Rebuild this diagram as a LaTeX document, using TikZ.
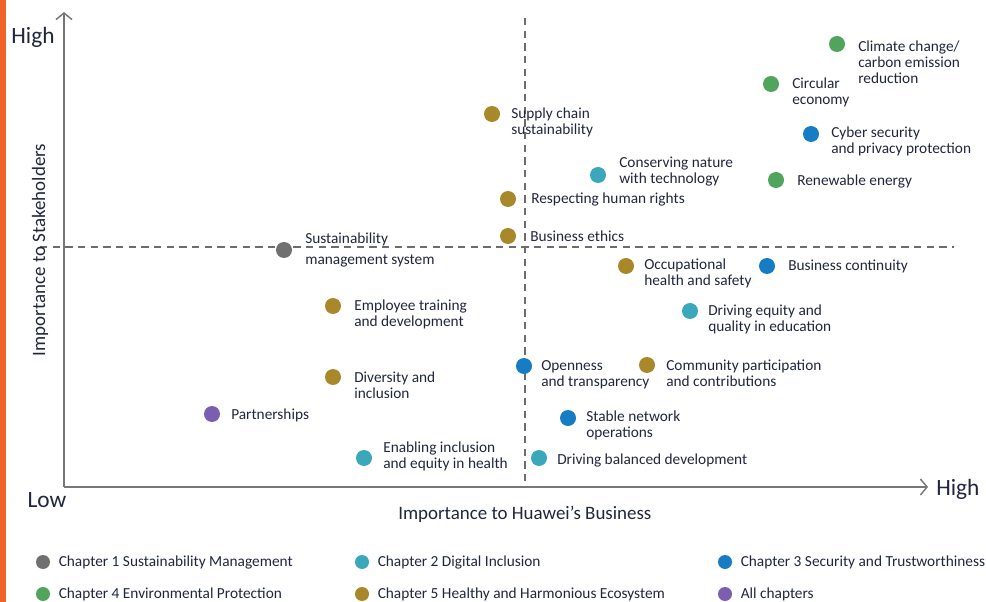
\documentclass[tikz,border=0pt]{standalone}
\usepackage{fontspec}
\setmainfont{Carlito}
\usetikzlibrary{arrows.meta}
\definecolor{chone}{RGB}{112,112,112}
\definecolor{chtwo}{RGB}{58,168,186}
\definecolor{chthree}{RGB}{22,125,196}
\definecolor{chfour}{RGB}{80,164,92}
\definecolor{chfive}{RGB}{168,136,40}
\definecolor{chall}{RGB}{124,94,176}
\definecolor{ink}{RGB}{32,38,62}
\definecolor{axisgray}{RGB}{120,120,120}
\definecolor{sidebar}{RGB}{240,100,40}

\begin{document}
\begin{tikzpicture}[x=0.75pt,y=-0.75pt,
  dot/.style={circle, fill=#1, inner sep=0pt, minimum size=12pt},
  keydot/.style={circle, fill=#1, inner sep=0pt, minimum size=10.5pt},
  lbl/.style={anchor=west, align=left, inner sep=0pt, text=ink, font=\fontsize{11.5}{12}\selectfont},
  axis/.style={draw=axisgray, line width=1.1pt, -{Straight Barb[length=5pt,width=12pt,line width=1.1pt]}},
  guide/.style={draw=axisgray!90!black, line width=1.1pt, dash pattern=on 5.5pt off 4pt},
  big/.style={text=ink, inner sep=0pt, font=\fontsize{17.5}{20}\selectfont},
  title/.style={text=ink, inner sep=0pt, font=\fontsize{14.2}{16}\selectfont}]
\useasboundingbox (0,0) rectangle (986,602);
\fill[sidebar] (0,0) rectangle (5.5,602);

% axes and quadrant lines
\coordinate (o) at (64,487);
\coordinate (ytip) at (64,12);
\coordinate (xtip) at (928,487);
\coordinate (hl) at (40,247);
\coordinate (hr) at (954,247);
\coordinate (vt) at (525,18);
\coordinate (vb) at (525,487);
\draw[guide] (hl) -- (hr);
\draw[guide] (vt) -- (vb);
\draw[axis] (o) -- (ytip);
\draw[axis] (o) -- (xtip);
\node[big] (yhigh) at (33,37) {High};
\node[big] (xlow) at (47,500) {Low};
\node[big, anchor=west] (xhigh) at (936,489) {High};
\node[title, rotate=90] (ytitle) at (40,250) {Importance to Stakeholders};
\node[title, anchor=west] (xtitle) at (398,514) {Importance to Huawei’s Business};

% topics: x/y/colour/text/label x/label y
\foreach \x/\y/\c/\t/\lx/\ly [count=\i] in {
  837/44/chfour/{Climate change/\\carbon emission\\reduction}/858/62,
  771/84/chfour/{Circular\\economy}/792/92.5,
  811/134/chthree/{Cyber security\\and privacy protection}/831/141.5,
  776/180/chfour/{Renewable energy}/797/181,
  492/114/chfive/{Supply chain\\sustainability}/511/122.5,
  598/175/chtwo/{Conserving nature\\with technology}/619/171.5,
  508/199/chfive/{Respecting human rights}/531/199,
  508/236/chfive/{Business ethics}/530/236,
  284/250/chone/{Sustainability\\[4pt]management system}/305/250,
  626/266/chfive/{Occupational\\health and safety}/644/273.5,
  767/266/chthree/{Business continuity}/788/266,
  333/306/chfive/{Employee training\\and development}/354/314.5,
  690/311/chtwo/{Driving equity and\\quality in education}/708/319.5,
  524/366/chthree/{Openness\\and transparency}/541/375,
  647/365/chfive/{Community participation\\and contributions}/666/373.5,
  333/377/chfive/{Diversity and\\inclusion}/354/385.5,
  212/414/chall/{Partnerships}/231/415,
  568/418/chthree/{Stable network\\operations}/586/425.5,
  364/458/chtwo/{Enabling inclusion\\and equity in health}/383/456.5,
  539/458/chtwo/{Driving balanced development}/557/460} {
  \node[dot=\c] (d\i) at (\x,\y) {};
  \node[lbl] (l\i) at (\lx,\ly) {\t};
}

% legend
\foreach \x/\y/\c/\t [count=\i] in {
  43/562/chone/{Chapter 1 Sustainability Management},
  362/562/chtwo/{Chapter 2 Digital Inclusion},
  725/562/chthree/{Chapter 3 Security and Trustworthiness},
  43/594/chfour/{Chapter 4 Environmental Protection},
  362/594/chfive/{Chapter 5 Healthy and Harmonious Ecosystem},
  725/594/chall/{All chapters}} {
  \node[keydot=\c] (k\i) at (\x,\y) {};
  \node[lbl] (kl\i) at (\x+15.5,\y+0.5) {\t};
}
\end{tikzpicture}
\end{document}
